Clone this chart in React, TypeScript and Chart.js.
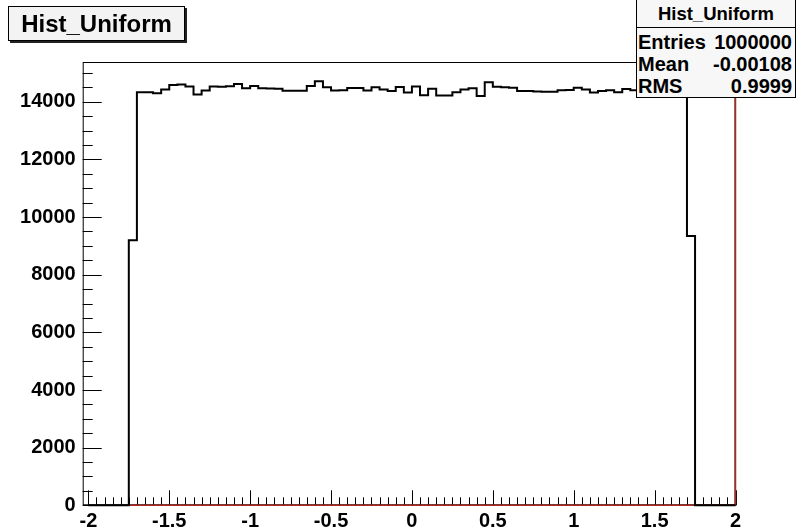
import React, { useEffect, useRef } from "react";
import { Chart, registerables } from "chart.js";

Chart.register(...registerables);

// ---- data ----
const BIN_LOW = -2;
const BIN_WIDTH = 0.05;
const counts = [
  0, 0, 0, 0, 0, 9200,
  14330, 14330, 14300, 14430, 14580, 14600, 14530, 14250, 14390, 14530,
  14520, 14540, 14620, 14470, 14550, 14470, 14460, 14450, 14380, 14380,
  14380, 14550, 14710, 14500, 14390, 14400, 14480, 14480, 14390, 14500,
  14430, 14370, 14510, 14320, 14530, 14230, 14450, 14220, 14220, 14330,
  14430, 14470, 14200, 14680, 14520, 14500, 14490, 14370, 14370, 14360,
  14350, 14350, 14400, 14410, 14490, 14430, 14320, 14370, 14400, 14330,
  14440, 14400, 14470, 14380, 14450, 14410, 14500, 14430,
  9340, 0, 0, 0, 0, 0,
];
const xTickValues = [-2, -1.5, -1, -0.5, 0, 0.5, 1, 1.5, 2];
const yTickValues = [0, 2000, 4000, 6000, 8000, 10000, 12000, 14000];
const X_MIN = -2.035;
const X_MAX = 2.0;
const Y_MIN = 0;
const Y_MAX = 15380;
const overlayX = [-1.75, 2, 2];
const overlayY = [0, 0, Y_MAX];
const histTitle = "Hist_Uniform";
const statsLabels = ["Entries", "Mean", "RMS"];
const statsValues = ["1000000", "-0.00108", "0.9999"];

const FONT = "'Liberation Sans', Arial, Helvetica, sans-serif";

const frameTicks = {
  id: "frameTicks",
  beforeDatasetsDraw(chart: any) {
    const { ctx, chartArea: a, scales } = chart;
    const x = scales.x;
    const y = scales.y;
    ctx.save();
    ctx.strokeStyle = "#000";
    ctx.lineWidth = 1;
    ctx.strokeRect(a.left + 0.5, a.top + 0.5, a.right - a.left - 1, a.bottom - a.top - 1);
    ctx.beginPath();
    // x ticks: every 0.05, major every 0.5
    for (let i = 0; i <= 80; i++) {
      const v = -2 + i * 0.05;
      const px = Math.round(x.getPixelForValue(v)) + 0.5;
      const len = i % 10 === 0 ? 15 : 8;
      ctx.moveTo(px, a.bottom);
      ctx.lineTo(px, a.bottom - len);
    }
    // y ticks: every 500, major every 2000
    for (let v = 0; v <= 15000; v += 500) {
      const py = Math.round(y.getPixelForValue(v)) + 0.5;
      const len = v % 2000 === 0 ? 19 : 10;
      ctx.moveTo(a.left, py);
      ctx.lineTo(a.left + len, py);
    }
    ctx.stroke();
    ctx.restore();
  },
};

export default function App() {
  const ref = useRef<HTMLCanvasElement>(null);
  useEffect(() => {
    if (!ref.current) return;
    const histPoints = counts.map((c, i) => ({ x: BIN_LOW + i * BIN_WIDTH, y: c }));
    histPoints.push({ x: BIN_LOW + counts.length * BIN_WIDTH, y: counts[counts.length - 1] });
    const overlayPoints = overlayX.map((v, i) => ({ x: v, y: overlayY[i] }));
    const chart = new Chart(ref.current, {
      type: "line",
      data: {
        datasets: [
          {
            label: "hist",
            data: histPoints,
            borderColor: "#000",
            borderWidth: 2,
            stepped: "before",
            pointRadius: 0,
            fill: false,
            order: 0,
            clip: false,
          } as any,
          {
            label: "overlay",
            data: overlayPoints,
            borderColor: "rgb(170,40,30)",
            borderWidth: 1.5,
            pointRadius: 0,
            fill: false,
            order: 1,
            clip: false,
          } as any,
        ],
      },
      options: {
        responsive: false,
        animation: false,
        devicePixelRatio: 1,
        layout: { padding: { top: 62, right: 60.5, left: 0, bottom: 0 } },
        plugins: { legend: { display: false }, tooltip: { enabled: false }, title: { display: false } },
        scales: {
          x: {
            type: "linear",
            min: X_MIN,
            max: X_MAX,
            grid: { display: false, drawTicks: false },
            border: { display: false },
            afterBuildTicks: (s: any) => {
              s.ticks = xTickValues.map((v) => ({ value: v }));
            },
            afterFit: (s: any) => {
              s.height = 22.7;
            },
            ticks: {
              color: "#000",
              padding: 4,
              maxRotation: 0,
              autoSkip: false,
              font: { family: FONT, size: 20, weight: "bold" },
              callback: (v: any) => String(v),
            },
          },
          y: {
            type: "linear",
            min: Y_MIN,
            max: Y_MAX,
            grid: { display: false, drawTicks: false },
            border: { display: false },
            afterBuildTicks: (s: any) => {
              s.ticks = yTickValues.map((v) => ({ value: v }));
            },
            afterFit: (s: any) => {
              s.width = 82.7;
            },
            ticks: {
              color: "#000",
              padding: 7,
              autoSkip: false,
              font: { family: FONT, size: 20, weight: "bold" },
              callback: (v: any) => String(v),
            },
          },
        },
      },
      plugins: [frameTicks],
    });
    return () => chart.destroy();
  }, []);

  return (
    <div style={{ position: "fixed", left: 0, top: 0, width: 796, height: 528, background: "#fff", overflow: "hidden" }}>
      <canvas ref={ref} width={796} height={528} style={{ position: "absolute", left: 0, top: 0, width: 796, height: 528 }} />
      <div
        style={{
          position: "absolute", left: 8, top: 6, width: 177, height: 35, boxSizing: "border-box",
          border: "1px solid #000", boxShadow: "2px 2px 0 #222", background: "#f3f3f3",
          font: `bold 24px ${FONT}`, color: "#000", display: "flex", alignItems: "center", justifyContent: "center",
        }}
      >
        {histTitle}
      </div>
      <div
        style={{
          position: "absolute", left: 636, top: -1, width: 160, height: 99, boxSizing: "border-box",
          border: "1px solid #000", background: "#f7f7f7", font: `bold 20px ${FONT}`, color: "#000",
        }}
      >
        <div style={{ position: "absolute", left: 0, right: 0, top: 0, height: 27, borderBottom: "1px solid #000", display: "flex", alignItems: "center", justifyContent: "center", fontSize: 18.5 }}>
          {histTitle}
        </div>
        {statsLabels.map((lab, i) => (
          <div key={lab} style={{ position: "absolute", left: 1, right: 3, top: 31 + i * 22, height: 22, lineHeight: "22px", display: "flex", justifyContent: "space-between" }}>
            <span>{lab}</span>
            <span>{statsValues[i]}</span>
          </div>
        ))}
      </div>
    </div>
  );
}
